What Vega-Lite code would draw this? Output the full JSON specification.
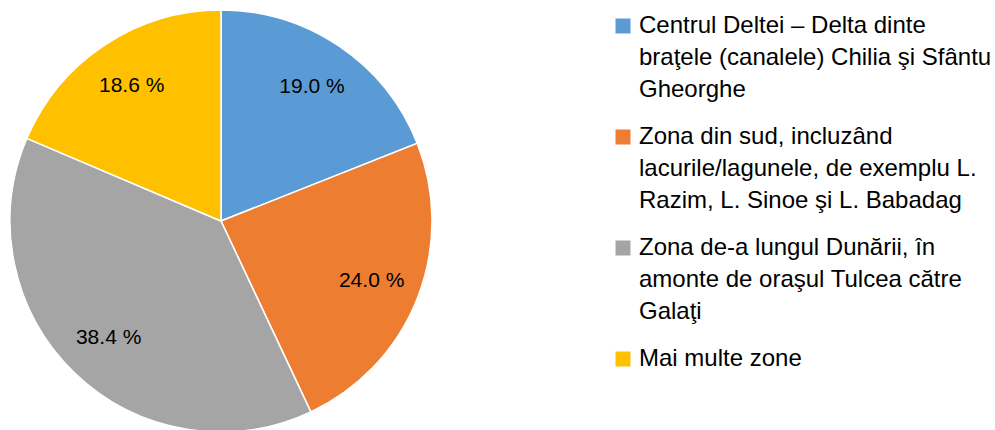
{
  "$schema": "https://vega.github.io/schema/vega-lite/v6.json",
  "width": 442,
  "height": 442,
  "padding": {"left": 0, "top": 0, "right": 0, "bottom": 0},
  "background": "white",
  "data": {
    "values": [
      {"zona": "Centrul Deltei – Delta dinte|braţele (canalele) Chilia şi Sfântu|Gheorghe", "pct": 19.0, "label": "19.0 %", "ord": 1},
      {"zona": "Zona din sud, incluzând|lacurile/lagunele, de exemplu L.|Razim, L. Sinoe şi L. Babadag", "pct": 24.0, "label": "24.0 %", "ord": 2},
      {"zona": "Zona de-a lungul Dunării, în|amonte de oraşul Tulcea către|Galaţi", "pct": 38.4, "label": "38.4 %", "ord": 3},
      {"zona": "Mai multe zone", "pct": 18.6, "label": "18.6 %", "ord": 4}
    ]
  },
  "encoding": {
    "theta": {"field": "pct", "type": "quantitative", "stack": true},
    "order": {"field": "ord", "type": "quantitative"},
    "color": {
      "field": "zona",
      "type": "nominal",
      "sort": null,
      "scale": {
        "domain": [
          "Centrul Deltei – Delta dinte|braţele (canalele) Chilia şi Sfântu|Gheorghe",
          "Zona din sud, incluzând|lacurile/lagunele, de exemplu L.|Razim, L. Sinoe şi L. Babadag",
          "Zona de-a lungul Dunării, în|amonte de oraşul Tulcea către|Galaţi",
          "Mai multe zone"
        ],
        "range": ["#5B9BD5", "#ED7D31", "#A5A5A5", "#FFC000"]
      },
      "legend": {
        "title": null,
        "orient": "none",
        "legendX": 611,
        "legendY": 14,
        "padding": 0,
        "symbolType": "square",
        "symbolSize": 225,
        "symbolStrokeWidth": 0,
        "labelFont": "Liberation Sans",
        "labelFontSize": 24,
        "labelColor": "#000000",
        "labelLimit": 400,
        "labelOffset": 4,
        "rowPadding": 23,
        "labelExpr": "split(datum.label, '|')",
        "encode": {"labels": {"enter": {"lineHeight": {"value": 32}}, "update": {"lineHeight": {"value": 32}}}}
      }
    }
  },
  "layer": [
    {"mark": {"type": "arc", "radius": 211, "stroke": "white", "strokeWidth": 1.5}},
    {
      "mark": {"type": "text", "radius": 162, "font": "Liberation Sans", "fontSize": 21, "color": "#000000"},
      "encoding": {"text": {"field": "label", "type": "nominal"}, "color": {"value": "#000000"}}
    }
  ],
  "config": {"view": {"stroke": null}, "style": {"guide-label": {"lineHeight": 32}}}
}
